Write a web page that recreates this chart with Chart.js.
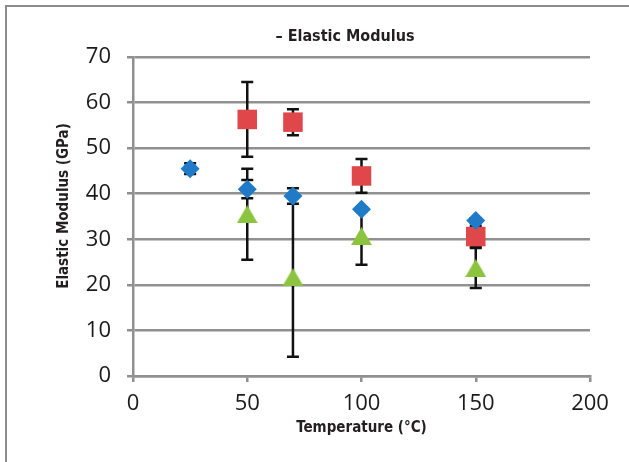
<!DOCTYPE html>
<html>
<head>
<meta charset="utf-8">
<script src="https://cdn.jsdelivr.net/npm/chart.js@4.4.1/dist/chart.umd.min.js"></script>
<style>
  html, body { margin: 0; padding: 0; background: #ffffff; }
  #wrap { position: relative; width: 629px; height: 462px; overflow: hidden; }
  #frame { position: absolute; left: 5px; top: 5px; right: -10px; bottom: -10px;
           border-top: 2px solid #8c8c8c; border-left: 2px solid #8c8c8c; }
  canvas { position: absolute; left: 0; top: 0; }
</style>
</head>
<body>
<div id="wrap">
  <div id="frame"></div>
  <canvas id="c" width="629" height="462"></canvas>
</div>
<script>
// ---- data ----
const temps = [25, 50, 70, 100, 150];
const blueValues  = [45.5, 41.0, 39.5, 36.6, 34.1];
const blueErr     = [1.2, 2.0, 1.7, 0.4, 0.5];
const redValues   = [null, 56.3, 55.7, 43.9, 30.6];
const redErr      = [null, 8.2, 2.85, 3.7, 2.3];
const greenValues = [null, 35.5, 21.7, 30.7, 23.7];
const greenErr    = [null, 10.0, 17.5, 6.3, 4.4];
const xTicks = [0, 50, 100, 150, 200];
const yTicks = [0, 10, 20, 30, 40, 50, 60, 70];
const chartTitle = '\u2013 Elastic Modulus';
const xTitle = 'Temperature (\u00B0C)';
const yTitle = 'Elastic Modulus (GPa)';

const BLUE = '#1f7bc8', RED = '#e0474a', GREEN = '#8cc440';
const COND = "'Liberation Sans Narrow', 'DejaVu Sans Condensed', 'Roboto Condensed', 'Liberation Sans', sans-serif";
const GRID = '#909090';

// triangle marker centred on its bounding box (as in the source)
const tri = document.createElement('canvas');
tri.width = 21; tri.height = 18;
(function(){ const t = tri.getContext('2d'); t.fillStyle = GREEN; t.beginPath();
  t.moveTo(10.5, 0); t.lineTo(21, 18); t.lineTo(0, 18); t.closePath(); t.fill(); })();

function pts(vals) { return temps.map((t, i) => ({x: t, y: vals[i]})).filter(p => p.y !== null); }

const series = [
  {values: blueValues, err: blueErr},
  {values: redValues, err: redErr},
  {values: greenValues, err: greenErr}
];

const errorBars = {
  id: 'errorBars',
  beforeDatasetsDraw(chart) {
    const {ctx, scales: {x, y}} = chart;
    ctx.save();
    ctx.strokeStyle = '#111111';
    ctx.lineWidth = 2.5;
    series.forEach(s => s.values.forEach((v, i) => {
      if (v === null) return;
      const px = x.getPixelForValue(temps[i]);
      const top = y.getPixelForValue(v + s.err[i]);
      const bot = y.getPixelForValue(v - s.err[i]);
      ctx.beginPath();
      ctx.moveTo(px, top); ctx.lineTo(px, bot);
      ctx.moveTo(px - 6, top); ctx.lineTo(px + 6, top);
      ctx.moveTo(px - 6, bot); ctx.lineTo(px + 6, bot);
      ctx.stroke();
    }));
    ctx.restore();
  }
};

const titles = {
  id: 'titles',
  afterDraw(chart) {
    const ctx = chart.ctx;
    ctx.save();
    ctx.fillStyle = '#231f20';
    ctx.textAlign = 'center';
    ctx.textBaseline = 'middle';
    ctx.font = 'bold 16px ' + COND;
    ctx.fillText(chartTitle, 345, 37);
    ctx.translate(64, 206);
    ctx.rotate(-Math.PI / 2);
    ctx.font = 'bold 15px ' + COND;
    ctx.fillText(yTitle, 0, 0);
    ctx.restore();
  }
};

new Chart(document.getElementById('c'), {
  type: 'scatter',
  data: {
    datasets: [
      {data: pts(blueValues), pointStyle: 'rectRot', pointRadius: 9.5, backgroundColor: BLUE, borderWidth: 0},
      {data: pts(redValues), pointStyle: 'rect', pointRadius: 13.8, backgroundColor: RED, borderWidth: 0},
      {data: pts(greenValues), pointStyle: tri, pointRadius: 10, backgroundColor: GREEN, borderWidth: 0}
    ]
  },
  options: {
    responsive: false,
    animation: false,
    events: [],
    layout: {padding: {top: 57, right: 39, left: 0, bottom: 0}},
    plugins: {legend: {display: false}, tooltip: {enabled: false}, title: {display: false}},
    scales: {
      x: {
        type: 'linear', min: 0, max: 200,
        afterBuildTicks: s => { s.ticks = xTicks.map(v => ({value: v})); },
        afterFit: s => { s.height = 86; },
        grid: {drawOnChartArea: false, drawTicks: true, tickLength: 6, color: GRID, lineWidth: 2.5},
        border: {display: true, color: GRID, width: 2.5},
        ticks: {padding: 9, color: '#1a1a1a', font: {family: "'Open Sans', sans-serif", size: 22}},
        title: {display: true, text: xTitle, color: '#231f20',
                font: {family: COND, size: 15, weight: 'bold'}, padding: {top: 0, bottom: 25}}
      },
      y: {
        type: 'linear', min: 0, max: 70,
        afterBuildTicks: s => { s.ticks = yTicks.map(v => ({value: v})); },
        afterFit: s => { s.width = 133; },
        grid: {drawOnChartArea: true, drawTicks: true, tickLength: 6, color: GRID, lineWidth: 2.5},
        border: {display: true, color: GRID, width: 2.5},
        ticks: {padding: 16, color: '#1a1a1a', font: {family: "'Open Sans', sans-serif", size: 22}}
      }
    }
  },
  plugins: [errorBars, titles]
});
</script>
</body>
</html>
